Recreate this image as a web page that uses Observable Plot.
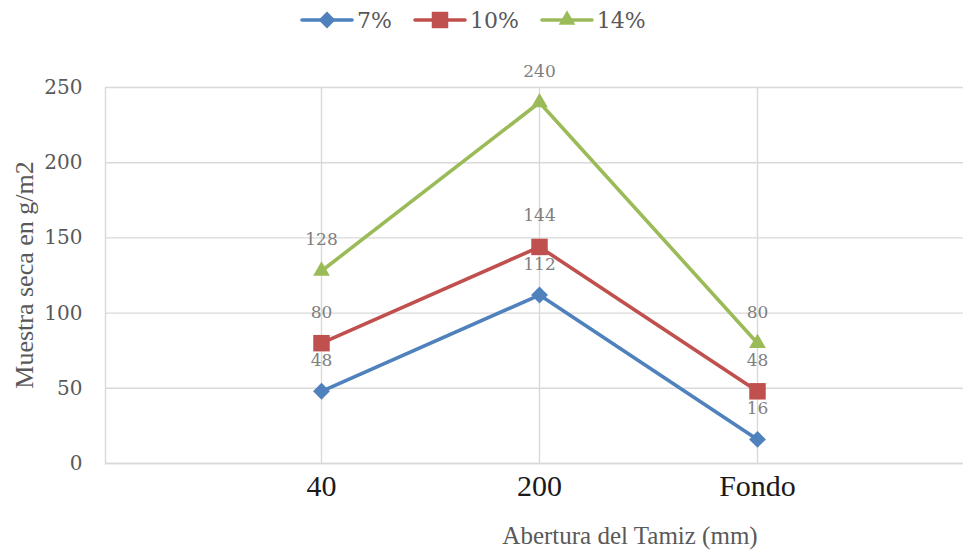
<!DOCTYPE html>
<html>
<head>
<meta charset="utf-8">
<script src="https://cdn.jsdelivr.net/npm/d3@7"></script>
<script src="https://cdn.jsdelivr.net/npm/@observablehq/plot@0.6"></script>
<style>
  html, body { margin: 0; padding: 0; background: #fff; }
  body { width: 963px; height: 552px; overflow: hidden; position: relative; }
  #legend { height: 40px; display: flex; align-items: center; gap: 21px; padding-left: 300px; box-sizing: border-box; }
  .item { display: flex; align-items: center; font: 22px "DejaVu Serif", serif; color: #595959; }
  .item svg { display: block; margin-right: 3px; }
  #ytitle { position: absolute; left: 25px; top: 275px; transform: translate(-50%, -50%) rotate(-90deg);
            white-space: nowrap; font: 26px "Liberation Serif", serif; color: #595959; }
  #xtitle { position: absolute; left: 630px; top: 536px; transform: translate(-50%, -50%);
            white-space: nowrap; font: 25px "Liberation Serif", serif; color: #595959; }
  #chart svg { display: block; }
</style>
</head>
<body>
<div id="legend"></div>
<div id="chart"></div>
<div id="ytitle"></div>
<div id="xtitle"></div>
<script>
// Sieve openings (x categories)
const categories = ["40", "200", "Fondo"];
// Dry sample (g/m2) per sieve opening, one series per percentage
const seriesNames = ["7%", "10%", "14%"];
const values7 = [48, 112, 16];
const values10 = [80, 144, 48];
const values14 = [128, 240, 80];
const yTicks = [0, 50, 100, 150, 200, 250];
const yTitle = "Muestra seca en g/m2";
const xTitle = "Abertura del Tamiz (mm)";

const colors = ["#4f81bd", "#c0504d", "#9bbb59"];
const symbols = ["diamond2", "square", "triangle"];
const symbolRadius = [7.6, 9.3, 6.2];

const allValues = [values7, values10, values14];
const rows = [];
seriesNames.forEach((name, i) => {
  categories.forEach((cat, j) => rows.push({series: name, idx: i, cat, value: allValues[i][j]}));
});

const grid = "#d9d9d9";
const marks = [
  Plot.gridY(yTicks, {stroke: grid, strokeOpacity: 1, strokeWidth: 1.4}),
  Plot.ruleX(categories, {x: d => d, y1: 0, y2: 250, stroke: grid, strokeWidth: 1.4}),
  Plot.frame({anchor: "left", stroke: grid, strokeWidth: 1.4}),
  Plot.ruleY([0], {stroke: grid, strokeWidth: 1.6}),
  Plot.axisY(yTicks, {tickSize: 0, tickPadding: 23, fontSize: 20, fontFamily: "DejaVu Serif", fill: "#595959", label: null}),
  Plot.axisX(categories, {tickSize: 0, tickPadding: 11, fontSize: 30, fontFamily: "Liberation Serif", fill: "#1a1a1a", label: null})
];
seriesNames.forEach((name, i) => {
  const data = rows.filter(r => r.idx === i);
  marks.push(
    Plot.line(data, {x: "cat", y: "value", stroke: colors[i], strokeWidth: 3.6, strokeLinejoin: "round", strokeLinecap: "round"}),
    Plot.dot(data, {x: "cat", y: "value", symbol: () => symbols[i], r: symbolRadius[i], fill: colors[i], stroke: "none"})
  );
});
marks.push(
  Plot.text(rows, {x: "cat", y: "value", text: d => String(d.value), dy: -31, fontSize: 17, fontFamily: "DejaVu Serif", fill: "#7f7f7f"})
);

const chart = Plot.plot({
  width: 963,
  height: 475,
  marginLeft: 105,
  marginRight: 0,
  marginTop: 47,
  marginBottom: 52,
  x: {type: "point", domain: categories, range: [321, 757], padding: 0},
  y: {domain: [0, 250]},
  style: {background: "#fff", overflow: "visible"},
  marks
});
document.getElementById("chart").append(chart);

// Legend: line swatch with its marker, then the series name
const legend = d3.select("#legend");
const symbolTypes = [d3.symbolDiamond2, d3.symbolSquare, d3.symbolTriangle];
seriesNames.forEach((name, i) => {
  const item = legend.append("div").attr("class", "item");
  const sw = item.append("svg").attr("width", 54).attr("height", 22);
  sw.append("line").attr("x1", 2).attr("x2", 52).attr("y1", 11).attr("y2", 11)
    .attr("stroke", colors[i]).attr("stroke-width", 3.6).attr("stroke-linecap", "round");
  const size = Math.PI * symbolRadius[i] * symbolRadius[i];
  sw.append("path").attr("transform", "translate(27,11)")
    .attr("d", d3.symbol(symbolTypes[i], size)()).attr("fill", colors[i]);
  item.append("span").text(name);
});

document.getElementById("ytitle").textContent = yTitle;
document.getElementById("xtitle").textContent = xTitle;
</script>
</body>
</html>
